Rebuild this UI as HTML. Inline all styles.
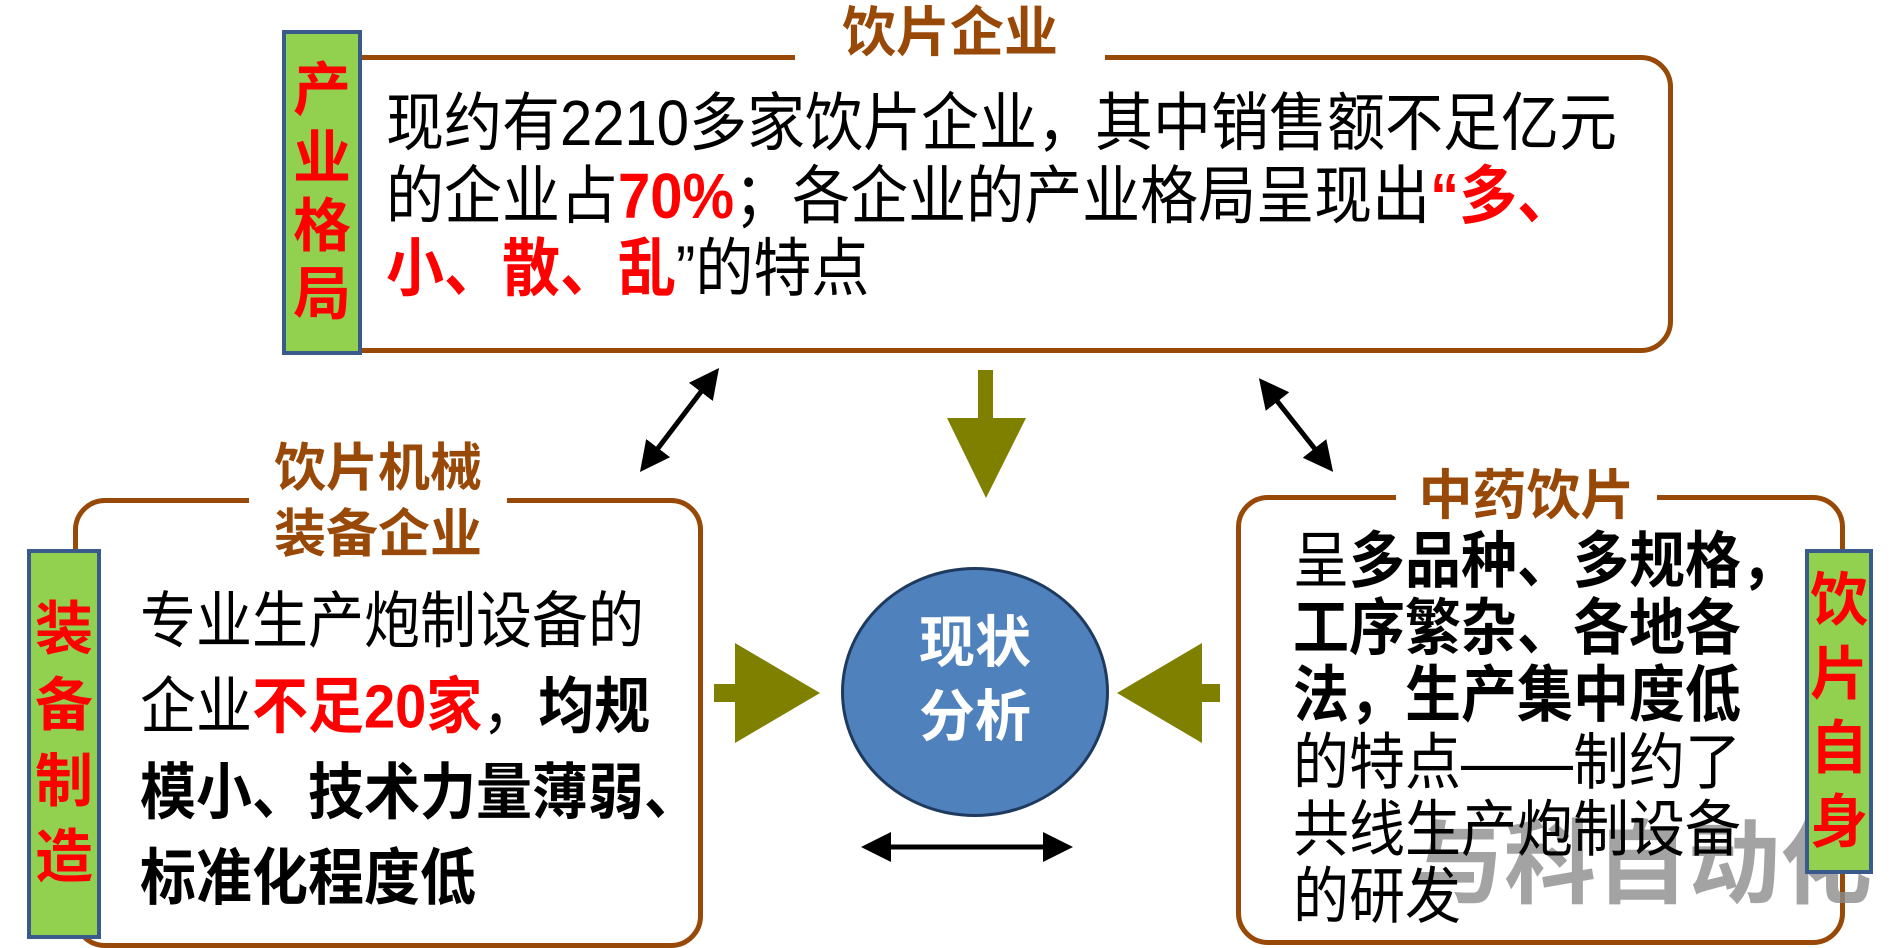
<!DOCTYPE html>
<html><head><meta charset="utf-8"><style>
body{margin:0;width:1894px;height:932px;background:#fff;position:relative;overflow:hidden;font-family:"Liberation Sans","Noto Sans CJK SC",sans-serif}
.a{position:absolute}
.box{position:absolute;border:5px solid #984807;border-radius:32px;box-sizing:border-box}
.ttl{position:absolute;background:#fff;color:#984807;font-weight:bold;text-align:center;line-height:1.25}
.lbl{position:absolute;background:#92D050;border:4px solid #3B5A8C;box-sizing:border-box;color:#f00;font-weight:bold;text-align:center;display:flex;flex-direction:column;justify-content:center;align-items:center}
.t{position:absolute;white-space:nowrap;color:#000;transform-origin:0 0;transform:scaleY(1.1)}
.r{color:#f00;font-weight:bold}
.b{font-weight:bold}
</style></head><body>
<div class="box" style="left:330px;top:55px;width:1343px;height:298px"></div>
<div class="ttl" style="left:795px;top:0px;width:310px;font-size:54px">饮片企业</div>
<div class="lbl" style="left:282px;top:30px;width:80px;height:325px;font-size:58px;line-height:68px">产<br>业<br>格<br>局</div>
<div class="t" style="left:386px;top:88px;font-size:58px;line-height:66px">现约有2210多家饮片企业，其中销售额不足亿元<br>的企业占<span class="r">70%</span>；各企业的产业格局呈现出<span class="r">“多、</span><br><span class="r">小、散、乱</span>”的特点</div>

<div class="box" style="left:73px;top:498px;width:630px;height:450px"></div>
<div class="ttl" style="left:249px;top:436px;width:258px;font-size:52px;line-height:66px">饮片机械<br>装备企业</div>
<div class="lbl" style="left:27px;top:549px;width:74px;height:390px;font-size:58px;line-height:76px">装<br>备<br>制<br>造</div>

<div class="box" style="left:1236px;top:495px;width:609px;height:450px"></div>
<div class="ttl" style="left:1396px;top:463px;width:261px;font-size:54px">中药饮片</div>

<div class="a" style="left:1412px;top:790px;font-size:92px;font-weight:bold;color:rgba(140,140,140,0.8);white-space:nowrap">与科自动化</div>

<div class="t" style="left:140px;top:578px;font-size:56px;line-height:78px">专业生产炮制设备的<br>企业<span class="r">不足20家</span>，<span class="b">均规</span><br><span class="b">模小、技术力量薄弱、</span><br><span class="b">标准化程度低</span></div>
<div class="t" style="left:1293px;top:527px;font-size:56px;line-height:61px">呈<span class="b">多品种、多规格，</span><br><span class="b">工序繁杂、各地各</span><br><span class="b">法，生产集中度低</span><br>的特点——制约了<br>共线生产炮制设备<br>的研发</div>
<div class="lbl" style="left:1805px;top:549px;width:68px;height:325px;font-size:58px;line-height:74px">饮<br>片<br>自<br>身</div>

<div class="a" style="left:841px;top:567px;width:268px;height:250px;border-radius:50%;background:#4F81BD;border:3px solid #1F3A5F;box-sizing:border-box"></div>
<div class="a" style="left:841px;top:606px;width:268px;text-align:center;color:#fff;font-weight:bold;font-size:56px;line-height:74px">现状<br>分析</div>

<svg class="a" style="left:0;top:0" width="1894" height="932">
<defs><marker id="m" markerWidth="6" markerHeight="6" refX="5" refY="3" orient="auto-start-reverse"><path d="M0,0L6,3L0,6z" fill="#000"/></marker></defs>
<g fill="#808000">
<rect x="978" y="370" width="15" height="50"/><path d="M947,418L1026,418L986,498z"/>
<rect x="714" y="684" width="22" height="18"/><path d="M735,643L820,693L735,743z"/>
<rect x="1200" y="684" width="20" height="18"/><path d="M1202,643L1117,693L1202,743z"/>
</g>
<g stroke="#000" stroke-width="5" marker-start="url(#m)" marker-end="url(#m)">
<line x1="716" y1="372" x2="643" y2="468"/>
<line x1="1262" y1="382" x2="1330" y2="468"/>
<line x1="866" y1="847" x2="1068" y2="847"/>
</g>
</svg>
</body></html>
